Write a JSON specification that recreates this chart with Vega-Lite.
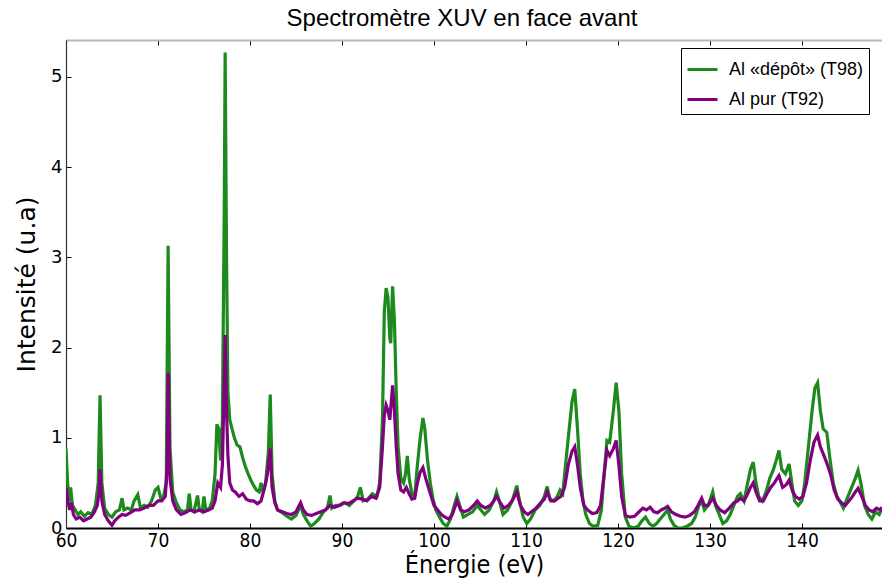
{
"$schema": "https://vega.github.io/schema/vega-lite/v6.json",
"width": 816, "height": 488,
"autosize": {"type": "none"},
"padding": {"left": 66, "top": 40, "right": 0, "bottom": 60},
"background": "white",
"config": {"view": {"stroke": null}, "axis": {"grid": false}},
"title": {"text": "Spectromètre XUV en face avant", "fontSize": 24, "font": "Liberation Sans", "fontWeight": "normal", "color": "black", "anchor": "middle", "offset": 9, "dx": -12},
"datasets": {
"g": [{"e":60.0,"v":0.88},{"e":60.15,"v":0.55},{"e":60.3,"v":0.3},{"e":60.5,"v":0.45},{"e":60.7,"v":0.25},{"e":61.0,"v":0.2},{"e":61.3,"v":0.15},{"e":61.6,"v":0.18},{"e":62.0,"v":0.13},{"e":62.4,"v":0.17},{"e":62.8,"v":0.15},{"e":63.2,"v":0.25},{"e":63.5,"v":0.5},{"e":63.7,"v":1.47},{"e":63.9,"v":0.5},{"e":64.2,"v":0.22},{"e":64.6,"v":0.15},{"e":65.0,"v":0.12},{"e":65.4,"v":0.18},{"e":65.8,"v":0.2},{"e":66.1,"v":0.33},{"e":66.3,"v":0.2},{"e":66.7,"v":0.22},{"e":67.1,"v":0.2},{"e":67.4,"v":0.3},{"e":67.8,"v":0.37},{"e":68.1,"v":0.22},{"e":68.5,"v":0.25},{"e":68.9,"v":0.23},{"e":69.3,"v":0.3},{"e":69.7,"v":0.42},{"e":70.0,"v":0.45},{"e":70.3,"v":0.33},{"e":70.6,"v":0.35},{"e":70.9,"v":0.5},{"e":71.1,"v":3.13},{"e":71.3,"v":0.9},{"e":71.6,"v":0.4},{"e":72.0,"v":0.28},{"e":72.4,"v":0.2},{"e":72.8,"v":0.18},{"e":73.2,"v":0.2},{"e":73.4,"v":0.38},{"e":73.6,"v":0.2},{"e":73.9,"v":0.18},{"e":74.3,"v":0.36},{"e":74.5,"v":0.2},{"e":74.8,"v":0.18},{"e":75.0,"v":0.35},{"e":75.2,"v":0.2},{"e":75.6,"v":0.22},{"e":75.9,"v":0.3},{"e":76.2,"v":0.6},{"e":76.4,"v":1.15},{"e":76.6,"v":1.1},{"e":76.8,"v":0.75},{"e":77.0,"v":1.2},{"e":77.2,"v":3.5},{"e":77.3,"v":5.27},{"e":77.45,"v":3.0},{"e":77.6,"v":1.5},{"e":77.8,"v":1.2},{"e":78.1,"v":1.08},{"e":78.3,"v":1.0},{"e":78.6,"v":0.92},{"e":78.9,"v":0.9},{"e":79.2,"v":0.78},{"e":79.5,"v":0.68},{"e":79.8,"v":0.6},{"e":80.1,"v":0.53},{"e":80.4,"v":0.47},{"e":80.7,"v":0.42},{"e":81.0,"v":0.4},{"e":81.2,"v":0.5},{"e":81.4,"v":0.4},{"e":81.7,"v":0.5},{"e":82.0,"v":0.85},{"e":82.2,"v":1.48},{"e":82.4,"v":0.6},{"e":82.7,"v":0.3},{"e":83.0,"v":0.2},{"e":83.5,"v":0.17},{"e":84.0,"v":0.13},{"e":84.5,"v":0.1},{"e":85.0,"v":0.14},{"e":85.5,"v":0.25},{"e":85.8,"v":0.15},{"e":86.2,"v":0.08},{"e":86.6,"v":0.02},{"e":87.0,"v":0.05},{"e":87.5,"v":0.1},{"e":88.0,"v":0.18},{"e":88.4,"v":0.22},{"e":88.7,"v":0.36},{"e":88.9,"v":0.22},{"e":89.3,"v":0.25},{"e":89.8,"v":0.25},{"e":90.3,"v":0.28},{"e":90.8,"v":0.25},{"e":91.3,"v":0.3},{"e":91.7,"v":0.35},{"e":92.0,"v":0.45},{"e":92.3,"v":0.3},{"e":92.8,"v":0.32},{"e":93.3,"v":0.38},{"e":93.8,"v":0.35},{"e":94.1,"v":0.5},{"e":94.4,"v":1.2},{"e":94.6,"v":2.4},{"e":94.8,"v":2.66},{"e":95.0,"v":2.55},{"e":95.2,"v":2.1},{"e":95.3,"v":2.05},{"e":95.5,"v":2.68},{"e":95.7,"v":2.3},{"e":95.9,"v":1.5},{"e":96.1,"v":0.9},{"e":96.4,"v":0.55},{"e":96.7,"v":0.5},{"e":96.9,"v":0.6},{"e":97.1,"v":0.8},{"e":97.3,"v":0.55},{"e":97.6,"v":0.38},{"e":97.9,"v":0.35},{"e":98.2,"v":0.7},{"e":98.5,"v":1.0},{"e":98.8,"v":1.22},{"e":99.0,"v":1.1},{"e":99.3,"v":0.75},{"e":99.6,"v":0.5},{"e":99.9,"v":0.32},{"e":100.2,"v":0.2},{"e":100.6,"v":0.12},{"e":101.0,"v":0.05},{"e":101.4,"v":0.02},{"e":101.8,"v":0.1},{"e":102.2,"v":0.25},{"e":102.5,"v":0.35},{"e":102.8,"v":0.25},{"e":103.2,"v":0.12},{"e":103.7,"v":0.15},{"e":104.2,"v":0.18},{"e":104.7,"v":0.25},{"e":105.1,"v":0.2},{"e":105.5,"v":0.15},{"e":106.0,"v":0.2},{"e":106.5,"v":0.3},{"e":106.8,"v":0.4},{"e":107.1,"v":0.3},{"e":107.5,"v":0.15},{"e":108.0,"v":0.2},{"e":108.5,"v":0.3},{"e":109.0,"v":0.47},{"e":109.3,"v":0.3},{"e":109.7,"v":0.12},{"e":110.1,"v":0.05},{"e":110.5,"v":0.1},{"e":111.0,"v":0.2},{"e":111.5,"v":0.25},{"e":112.0,"v":0.35},{"e":112.3,"v":0.46},{"e":112.6,"v":0.32},{"e":113.0,"v":0.3},{"e":113.4,"v":0.35},{"e":113.7,"v":0.42},{"e":114.0,"v":0.38},{"e":114.3,"v":0.7},{"e":114.7,"v":1.1},{"e":115.0,"v":1.4},{"e":115.3,"v":1.54},{"e":115.6,"v":1.1},{"e":115.9,"v":0.6},{"e":116.2,"v":0.3},{"e":116.5,"v":0.15},{"e":116.9,"v":0.05},{"e":117.3,"v":0.02},{"e":117.8,"v":0.03},{"e":118.2,"v":0.2},{"e":118.5,"v":0.6},{"e":118.8,"v":0.97},{"e":119.1,"v":0.95},{"e":119.5,"v":1.3},{"e":119.8,"v":1.61},{"e":120.1,"v":1.3},{"e":120.4,"v":0.6},{"e":120.8,"v":0.12},{"e":121.2,"v":0.02},{"e":121.7,"v":0.0},{"e":122.2,"v":0.02},{"e":122.6,"v":0.08},{"e":123.0,"v":0.12},{"e":123.4,"v":0.05},{"e":123.8,"v":0.02},{"e":124.2,"v":0.05},{"e":124.6,"v":0.1},{"e":125.0,"v":0.15},{"e":125.4,"v":0.2},{"e":125.7,"v":0.1},{"e":126.1,"v":0.03},{"e":126.5,"v":0.0},{"e":127.0,"v":0.0},{"e":127.5,"v":0.02},{"e":128.0,"v":0.05},{"e":128.4,"v":0.12},{"e":128.8,"v":0.25},{"e":129.1,"v":0.3},{"e":129.4,"v":0.2},{"e":129.8,"v":0.25},{"e":130.3,"v":0.4},{"e":130.6,"v":0.25},{"e":131.0,"v":0.15},{"e":131.4,"v":0.05},{"e":131.8,"v":0.08},{"e":132.2,"v":0.15},{"e":132.6,"v":0.25},{"e":133.0,"v":0.35},{"e":133.3,"v":0.38},{"e":133.7,"v":0.3},{"e":134.1,"v":0.5},{"e":134.4,"v":0.65},{"e":134.7,"v":0.73},{"e":135.0,"v":0.5},{"e":135.3,"v":0.35},{"e":135.7,"v":0.3},{"e":136.1,"v":0.4},{"e":136.5,"v":0.55},{"e":136.9,"v":0.65},{"e":137.2,"v":0.75},{"e":137.5,"v":0.86},{"e":137.8,"v":0.65},{"e":138.2,"v":0.6},{"e":138.6,"v":0.71},{"e":138.9,"v":0.5},{"e":139.2,"v":0.3},{"e":139.6,"v":0.25},{"e":140.0,"v":0.3},{"e":140.3,"v":0.5},{"e":140.7,"v":0.9},{"e":141.1,"v":1.3},{"e":141.4,"v":1.55},{"e":141.7,"v":1.61},{"e":142.0,"v":1.3},{"e":142.3,"v":1.1},{"e":142.7,"v":1.06},{"e":143.0,"v":0.8},{"e":143.4,"v":0.5},{"e":143.8,"v":0.35},{"e":144.1,"v":0.3},{"e":144.5,"v":0.22},{"e":145.0,"v":0.35},{"e":145.4,"v":0.45},{"e":145.8,"v":0.55},{"e":146.1,"v":0.64},{"e":146.4,"v":0.5},{"e":146.8,"v":0.25},{"e":147.2,"v":0.15},{"e":147.6,"v":0.1},{"e":148.0,"v":0.18},{"e":148.4,"v":0.15},{"e":148.7,"v":0.22}],
"p": [{"e":60.0,"v":0.45},{"e":60.2,"v":0.3},{"e":60.4,"v":0.2},{"e":60.6,"v":0.28},{"e":60.8,"v":0.15},{"e":61.1,"v":0.1},{"e":61.5,"v":0.12},{"e":61.9,"v":0.08},{"e":62.3,"v":0.1},{"e":62.7,"v":0.12},{"e":63.1,"v":0.18},{"e":63.4,"v":0.25},{"e":63.6,"v":0.4},{"e":63.7,"v":0.65},{"e":63.9,"v":0.3},{"e":64.2,"v":0.15},{"e":64.6,"v":0.08},{"e":65.0,"v":0.03},{"e":65.3,"v":0.08},{"e":65.7,"v":0.12},{"e":66.1,"v":0.15},{"e":66.5,"v":0.14},{"e":67.0,"v":0.17},{"e":67.5,"v":0.2},{"e":68.0,"v":0.2},{"e":68.5,"v":0.22},{"e":69.0,"v":0.25},{"e":69.5,"v":0.25},{"e":70.0,"v":0.3},{"e":70.4,"v":0.3},{"e":70.8,"v":0.35},{"e":71.0,"v":0.7},{"e":71.1,"v":1.72},{"e":71.3,"v":0.55},{"e":71.6,"v":0.3},{"e":72.0,"v":0.2},{"e":72.5,"v":0.15},{"e":73.0,"v":0.17},{"e":73.5,"v":0.2},{"e":74.0,"v":0.18},{"e":74.5,"v":0.2},{"e":75.0,"v":0.18},{"e":75.5,"v":0.2},{"e":75.9,"v":0.22},{"e":76.2,"v":0.3},{"e":76.5,"v":0.5},{"e":76.8,"v":0.45},{"e":77.0,"v":0.7},{"e":77.2,"v":1.6},{"e":77.3,"v":2.14},{"e":77.45,"v":1.3},{"e":77.6,"v":0.8},{"e":77.8,"v":0.5},{"e":78.1,"v":0.42},{"e":78.4,"v":0.4},{"e":78.8,"v":0.35},{"e":79.2,"v":0.38},{"e":79.6,"v":0.32},{"e":80.0,"v":0.3},{"e":80.4,"v":0.3},{"e":80.8,"v":0.27},{"e":81.2,"v":0.3},{"e":81.6,"v":0.45},{"e":81.9,"v":0.6},{"e":82.2,"v":0.88},{"e":82.4,"v":0.45},{"e":82.7,"v":0.28},{"e":83.0,"v":0.2},{"e":83.5,"v":0.18},{"e":84.0,"v":0.16},{"e":84.5,"v":0.15},{"e":85.0,"v":0.18},{"e":85.5,"v":0.28},{"e":85.8,"v":0.2},{"e":86.2,"v":0.15},{"e":86.7,"v":0.14},{"e":87.2,"v":0.16},{"e":87.7,"v":0.18},{"e":88.2,"v":0.2},{"e":88.7,"v":0.25},{"e":89.2,"v":0.23},{"e":89.7,"v":0.25},{"e":90.2,"v":0.28},{"e":90.7,"v":0.27},{"e":91.2,"v":0.3},{"e":91.7,"v":0.33},{"e":92.2,"v":0.32},{"e":92.7,"v":0.3},{"e":93.2,"v":0.35},{"e":93.7,"v":0.33},{"e":94.1,"v":0.45},{"e":94.4,"v":0.9},{"e":94.6,"v":1.25},{"e":94.8,"v":1.36},{"e":95.0,"v":1.3},{"e":95.2,"v":1.2},{"e":95.5,"v":1.58},{"e":95.7,"v":1.3},{"e":95.9,"v":0.9},{"e":96.1,"v":0.6},{"e":96.4,"v":0.42},{"e":96.7,"v":0.4},{"e":97.0,"v":0.45},{"e":97.3,"v":0.38},{"e":97.6,"v":0.32},{"e":97.9,"v":0.33},{"e":98.2,"v":0.5},{"e":98.5,"v":0.62},{"e":98.8,"v":0.67},{"e":99.1,"v":0.55},{"e":99.4,"v":0.45},{"e":99.7,"v":0.35},{"e":100.0,"v":0.25},{"e":100.4,"v":0.2},{"e":100.8,"v":0.15},{"e":101.2,"v":0.12},{"e":101.6,"v":0.1},{"e":102.0,"v":0.15},{"e":102.5,"v":0.3},{"e":102.9,"v":0.2},{"e":103.3,"v":0.18},{"e":103.8,"v":0.2},{"e":104.3,"v":0.25},{"e":104.7,"v":0.3},{"e":105.1,"v":0.25},{"e":105.6,"v":0.22},{"e":106.1,"v":0.25},{"e":106.5,"v":0.3},{"e":106.8,"v":0.35},{"e":107.2,"v":0.28},{"e":107.6,"v":0.22},{"e":108.1,"v":0.25},{"e":108.6,"v":0.32},{"e":109.0,"v":0.4},{"e":109.4,"v":0.25},{"e":109.8,"v":0.18},{"e":110.2,"v":0.15},{"e":110.6,"v":0.18},{"e":111.1,"v":0.22},{"e":111.6,"v":0.28},{"e":112.0,"v":0.32},{"e":112.3,"v":0.4},{"e":112.7,"v":0.3},{"e":113.1,"v":0.3},{"e":113.5,"v":0.33},{"e":113.8,"v":0.35},{"e":114.2,"v":0.45},{"e":114.6,"v":0.7},{"e":115.0,"v":0.85},{"e":115.3,"v":0.9},{"e":115.6,"v":0.7},{"e":115.9,"v":0.45},{"e":116.3,"v":0.25},{"e":116.7,"v":0.2},{"e":117.2,"v":0.16},{"e":117.7,"v":0.17},{"e":118.1,"v":0.25},{"e":118.5,"v":0.6},{"e":118.8,"v":0.86},{"e":119.1,"v":0.8},{"e":119.5,"v":0.88},{"e":119.8,"v":0.97},{"e":120.1,"v":0.7},{"e":120.4,"v":0.35},{"e":120.8,"v":0.14},{"e":121.3,"v":0.12},{"e":121.8,"v":0.13},{"e":122.3,"v":0.18},{"e":122.7,"v":0.22},{"e":123.1,"v":0.2},{"e":123.5,"v":0.23},{"e":123.9,"v":0.18},{"e":124.3,"v":0.17},{"e":124.7,"v":0.2},{"e":125.1,"v":0.22},{"e":125.4,"v":0.24},{"e":125.8,"v":0.18},{"e":126.3,"v":0.15},{"e":126.8,"v":0.13},{"e":127.3,"v":0.12},{"e":127.8,"v":0.14},{"e":128.3,"v":0.18},{"e":128.7,"v":0.25},{"e":129.1,"v":0.33},{"e":129.4,"v":0.25},{"e":129.8,"v":0.25},{"e":130.3,"v":0.33},{"e":130.7,"v":0.25},{"e":131.1,"v":0.2},{"e":131.6,"v":0.17},{"e":132.1,"v":0.22},{"e":132.6,"v":0.28},{"e":133.0,"v":0.3},{"e":133.3,"v":0.33},{"e":133.7,"v":0.3},{"e":134.1,"v":0.38},{"e":134.4,"v":0.45},{"e":134.7,"v":0.5},{"e":135.0,"v":0.4},{"e":135.4,"v":0.3},{"e":135.8,"v":0.3},{"e":136.2,"v":0.38},{"e":136.6,"v":0.45},{"e":137.0,"v":0.5},{"e":137.3,"v":0.55},{"e":137.5,"v":0.58},{"e":137.9,"v":0.45},{"e":138.3,"v":0.48},{"e":138.6,"v":0.53},{"e":139.0,"v":0.4},{"e":139.3,"v":0.35},{"e":139.7,"v":0.32},{"e":140.1,"v":0.35},{"e":140.5,"v":0.5},{"e":140.9,"v":0.75},{"e":141.3,"v":0.95},{"e":141.7,"v":1.03},{"e":142.0,"v":0.9},{"e":142.4,"v":0.8},{"e":142.7,"v":0.72},{"e":143.1,"v":0.6},{"e":143.5,"v":0.42},{"e":143.9,"v":0.32},{"e":144.3,"v":0.28},{"e":144.7,"v":0.25},{"e":145.1,"v":0.3},{"e":145.5,"v":0.35},{"e":145.8,"v":0.4},{"e":146.1,"v":0.44},{"e":146.5,"v":0.35},{"e":146.9,"v":0.25},{"e":147.3,"v":0.2},{"e":147.7,"v":0.18},{"e":148.1,"v":0.22},{"e":148.5,"v":0.2},{"e":148.7,"v":0.23}]
},
"resolve": {"axis": {"x": "independent"}},
"layer": [
{
"data": {"name": "g"},
"mark": {"type": "line", "strokeWidth": 3.2, "clip": true},
"encoding": {
"x": {"field": "e", "type": "quantitative", "scale": {"domain": [60, 148.7], "nice": false, "zero": false},
"axis": {"orient": "bottom", "title": "Énergie (eV)", "titleFont": "DejaVu Sans Condensed, Liberation Sans Narrow, sans-serif", "titleFontSize": 25, "titleFontWeight": "normal", "titleColor": "black", "titlePadding": 2, "labelFont": "DejaVu Sans Condensed, Liberation Sans Narrow, sans-serif", "labelFontSize": 19, "labelColor": "black", "values": [60,70,80,90,100,110,120,130,140], "format": "d", "tickSize": -5, "tickColor": "black", "domainColor": "black", "domainWidth": 2, "labelPadding": 8, "labelFlush": false}},
"y": {"field": "v", "type": "quantitative", "scale": {"domain": [0, 5.41], "nice": false},
"axis": {"title": "Intensité (u.a)", "titleFont": "DejaVu Sans, sans-serif", "titleFontSize": 25, "titleFontWeight": "normal", "titleColor": "black", "titlePadding": 11, "labelFont": "DejaVu Sans, sans-serif", "labelFontSize": 18, "labelColor": "black", "values": [0,1,2,3,4,5], "format": "d", "tickSize": -5, "tickColor": "black", "domainColor": "#333333", "domainWidth": 1.2, "labelPadding": 9}},
"color": {"datum": "Al «dépôt» (T98)", "type": "nominal", "scale": {"domain": ["Al «dépôt» (T98)", "Al pur (T92)"], "range": ["#1c8a1c", "#800080"]},
"legend": {"orient": "none", "legendX": 615, "legendY": 8, "title": null, "strokeColor": "black", "fillColor": "white", "padding": 5, "labelFont": "Liberation Sans, sans-serif", "labelFontSize": 18, "labelColor": "black", "labelOffset": 10, "symbolType": "stroke", "symbolSize": 900, "symbolStrokeWidth": 3, "rowPadding": 4, "labelLimit": 300}}
}
},
{
"data": {"name": "p"},
"mark": {"type": "line", "strokeWidth": 3.2, "clip": true},
"encoding": {
"x": {"field": "e", "type": "quantitative", "scale": {"domain": [60, 148.7], "nice": false, "zero": false},
"axis": {"orient": "top", "title": null, "labels": false, "values": [60,70,80,90,100,110,120,130,140], "tickSize": -5, "tickColor": "black", "domainColor": "#b8b8b8", "domainWidth": 2}},
"y": {"field": "v", "type": "quantitative", "scale": {"domain": [0, 5.41], "nice": false}},
"color": {"datum": "Al pur (T92)", "type": "nominal"}
}
}
]
}
